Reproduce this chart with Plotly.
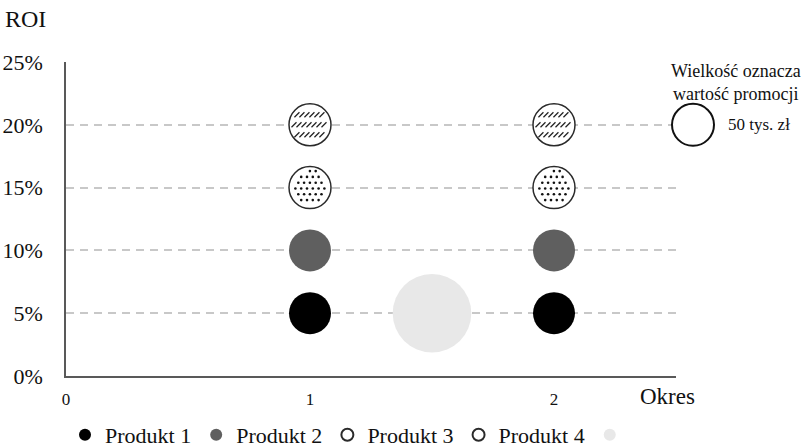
import numpy as np
import plotly.graph_objects as go

# --- data -------------------------------------------------------------
periods = [1, 2]
roi_p1 = [0.05, 0.05]
roi_p2 = [0.10, 0.10]
roi_p3 = [0.15, 0.15]
roi_p4 = [0.20, 0.20]
promo_value = [50, 50]          # tys. zł

scale_x = [1.5]
scale_roi = [0.05]
scale_value = [175]

ref_value = 50                  # reference bubble in the size key
ref_label = "50 tys. zł"

x_ticks = [0, 1, 2]
y_ticks = [0, 0.05, 0.10, 0.15, 0.20, 0.25]
y_tick_text = ["0%", "5%", "10%", "15%", "20%", "25%"]

# --- geometry ---------------------------------------------------------
W, H = 802, 447
ML, MR, MT, MB = 66, 126, 62, 71
X_RANGE = [0, 2.5]
Y_RANGE = [0, 0.25]
PLOT_W = W - ML - MR
PLOT_H = H - MT - MB
PX_X = (X_RANGE[1] - X_RANGE[0]) / PLOT_W   # data units per pixel
PX_Y = (Y_RANGE[1] - Y_RANGE[0]) / PLOT_H

REF_PX = 42                                   # diameter of a 50 tys. zł bubble
SIZEREF = ref_value / 2 / (REF_PX / 2) ** 2   # plotly area sizing


def bubble_px(v):
    """Rendered diameter (px) of a bubble of value v."""
    return 2 * np.sqrt(v / 2 / SIZEREF)


FONT = "Liberation Serif"
TXT = "#111111"

fig = go.Figure()


def bubbles(name, x, y, sizes, fill, line_color, line_w):
    fig.add_trace(go.Scatter(
        x=x, y=y, mode="markers", name=name,
        marker=dict(size=sizes, sizemode="area", sizeref=SIZEREF,
                    color=fill, opacity=1,
                    line=dict(color=line_color, width=line_w)),
        hoverinfo="skip",
    ))


bubbles("Produkt 1", periods, roi_p1, promo_value, "#000000", "#000000", 0)
bubbles("Produkt 2", periods, roi_p2, promo_value, "#5f5f5f", "#5f5f5f", 0)
bubbles("Produkt 3", periods, roi_p3, promo_value, "#ffffff", "#2a2a2a", 1.5)
bubbles("Produkt 4", periods, roi_p4, promo_value, "#ffffff", "#2a2a2a", 1.5)
bubbles(" ", scale_x, scale_roi, scale_value, "#e8e8e8", "#e8e8e8", 0)


# dotted texture for Produkt 3
def dot_texture(xs, ys, values):
    tx, ty = [], []
    for cx, cy, v in zip(xs, ys, values):
        r = bubble_px(v) / 2 - 3.5
        step = 5.8
        for j, oy in enumerate(np.arange(-r + 1, r, step)):
            shift = step / 2 if j % 2 else 0
            for ox in np.arange(-r - shift, r + 0.1, step):
                if ox * ox + oy * oy <= r * r:
                    tx.append(cx + ox * PX_X)
                    ty.append(cy - oy * PX_Y)
    return tx, ty


tx, ty = dot_texture(periods, roi_p3, promo_value)
fig.add_trace(go.Scatter(x=tx, y=ty, mode="markers", showlegend=False,
                         marker=dict(size=2.6, color="#111111", opacity=1),
                         hoverinfo="skip"))


# slanted-stroke texture for Produkt 4
def stroke_texture(xs, ys, values):
    tx, ty = [], []
    for cx, cy, v in zip(xs, ys, values):
        r = bubble_px(v) / 2 - 2.5
        for oy in (-10, 0, 10):
            half = np.sqrt(max(r * r - oy * oy, 0)) - 2.5
            for ox in np.arange(-half, half + 0.1, 5.0):
                tx.append(cx + ox * PX_X)
                ty.append(cy - oy * PX_Y)
    return tx, ty


tx, ty = stroke_texture(periods, roi_p4, promo_value)
fig.add_trace(go.Scatter(x=tx, y=ty, mode="markers", showlegend=False,
                         marker=dict(symbol="line-ne", size=5, color="#111111",
                                     opacity=1,
                                     line=dict(color="#222222", width=1.3)),
                         hoverinfo="skip"))

# --- size key ---------------------------------------------------------
key_x = (693 - ML) / PLOT_W   # paper position right of the plot area
ref_d = bubble_px(ref_value)
fig.add_shape(type="circle", xref="paper", yref="y",
              xsizemode="pixel", ysizemode="pixel",
              xanchor=key_x, yanchor=y_ticks[4],
              x0=-ref_d / 2, x1=ref_d / 2, y0=-ref_d / 2, y1=ref_d / 2,
              line=dict(color="#111111", width=2), fillcolor="white")
fig.add_annotation(xref="paper", yref="paper", x=(736 - ML) / PLOT_W,
                   y=1 + (MT - 82) / PLOT_H,
                   text="Wielkość oznacza<br>wartość promocji",
                   showarrow=False, font=dict(family=FONT, size=18, color=TXT),
                   align="center", xanchor="center", yanchor="middle")
fig.add_annotation(xref="paper", yref="y", x=(726 - ML) / PLOT_W, y=y_ticks[4],
                   text=ref_label, showarrow=False, xanchor="left",
                   font=dict(family=FONT, size=17, color=TXT))

# axis titles
fig.add_annotation(xref="paper", yref="paper", x=(667 - ML) / PLOT_W,
                   y=-(396 - MT - PLOT_H) / PLOT_H, text="Okres", showarrow=False,
                   xanchor="center", yanchor="middle",
                   font=dict(family=FONT, size=23, color=TXT))
fig.add_annotation(xref="paper", yref="paper", x=(3 - ML) / PLOT_W,
                   y=1 + (MT - 19) / PLOT_H, text="ROI", showarrow=False,
                   xanchor="left", yanchor="middle",
                   font=dict(family=FONT, size=24, color=TXT))

fig.update_layout(
    width=W, height=H,
    margin=dict(l=ML, r=MR, t=MT, b=MB, autoexpand=False),
    plot_bgcolor="white", paper_bgcolor="white",
    font=dict(family=FONT, color=TXT),
    legend=dict(orientation="h", x=(65 - ML) / PLOT_W, xanchor="left",
                y=-(435 - MT - PLOT_H) / PLOT_H, yanchor="middle",
                font=dict(family=FONT, size=22, color=TXT),
                itemsizing="constant", itemwidth=30, traceorder="normal",
                tracegroupgap=0),
    xaxis=dict(range=X_RANGE, tickvals=x_ticks, ticktext=[str(t) for t in x_ticks],
               showgrid=False, zeroline=False, showline=True,
               linecolor="#595959", linewidth=1.5,
               tickfont=dict(family=FONT, size=17, color=TXT),
               ticks="", ticklabelstandoff=7),
    yaxis=dict(range=Y_RANGE, tickvals=y_ticks, ticktext=y_tick_text,
               showgrid=True, gridcolor="#c8c8c8", gridwidth=1.5,
               griddash="8px,6px", zeroline=False, showline=True,
               linecolor="#595959", linewidth=1.5,
               tickfont=dict(family=FONT, size=22, color=TXT),
               ticks="", ticklabelstandoff=17),
)

fig.write_html("out.html")
